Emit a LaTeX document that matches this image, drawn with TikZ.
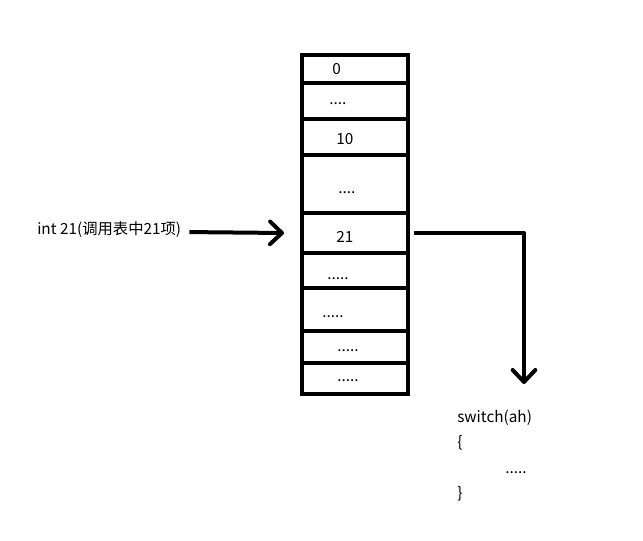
\documentclass[tikz,border=0pt]{standalone}
\usepackage{fontspec}
\setmainfont{Noto Sans CJK SC}
\usetikzlibrary{arrows.meta}
\begin{document}
\begin{tikzpicture}[x=0.75pt,y=-0.75pt,
  cell/.style={draw, line width=3pt, minimum width=106*0.75pt, inner sep=0pt},
  txt/.style={inner sep=0pt, font=\fontsize{11.5pt}{13pt}\selectfont},
  arr/.style={line width=3pt, -{Straight Barb[length=9pt,width=17pt,line cap=round,line join=round]}}]
\useasboundingbox (0,0) rectangle (643,540);
% table cells
\node[cell, minimum height=28*0.75pt] (c0) at (355,69) {};
\node[cell, minimum height=36*0.75pt] (c1) at (355,101) {};
\node[cell, minimum height=36*0.75pt] (c2) at (355,137) {};
\node[cell, minimum height=58*0.75pt] (c3) at (355,184) {};
\node[cell, minimum height=40*0.75pt] (c4) at (355,233) {};
\node[cell, minimum height=35*0.75pt] (c5) at (355,270.5) {};
\node[cell, minimum height=43*0.75pt] (c6) at (355,309.5) {};
\node[cell, minimum height=32*0.75pt] (c7) at (355,347) {};
\node[cell, minimum height=31*0.75pt] (c8) at (355,378.5) {};
% cell texts
\node[txt, anchor=base west] (t0) at (332,74) {0};
\node[txt, anchor=base west] (t1) at (329,104) {....};
\node[txt, anchor=base west] (t2) at (336,144) {10};
\node[txt, anchor=base west] (t3) at (338,193) {....};
\node[txt, anchor=base west] (t4) at (336,242) {21};
\node[txt, anchor=base west] (t5) at (327,279) {.....};
\node[txt, anchor=base west] (t6) at (322,317) {.....};
\node[txt, anchor=base west] (t7) at (337,351) {.....};
\node[txt, anchor=base west] (t8) at (337,381) {.....};
% left label and arrow
\node[txt, anchor=base west] (lbl) at (37,234) {int 21(调用表中21项)};
\draw[arr] ([xshift=8*0.75pt,yshift=-3*0.75pt]lbl.east) -- ([xshift=-16*0.75pt]c4.west);
% right connector
\coordinate (tip) at (524,384);
\draw[arr, line join=round] ([xshift=4*0.75pt]c4.east) -| (tip);
% switch text
\node[txt, anchor=base west] (s1) at (457,422) {switch(ah)};
\node[txt, anchor=base west] (s2) at (457,447) {\{};
\node[txt, anchor=base west] (s3) at (505,473) {.....};
\node[txt, anchor=base west] (s4) at (457,498) {\}};
\end{tikzpicture}
\end{document}
